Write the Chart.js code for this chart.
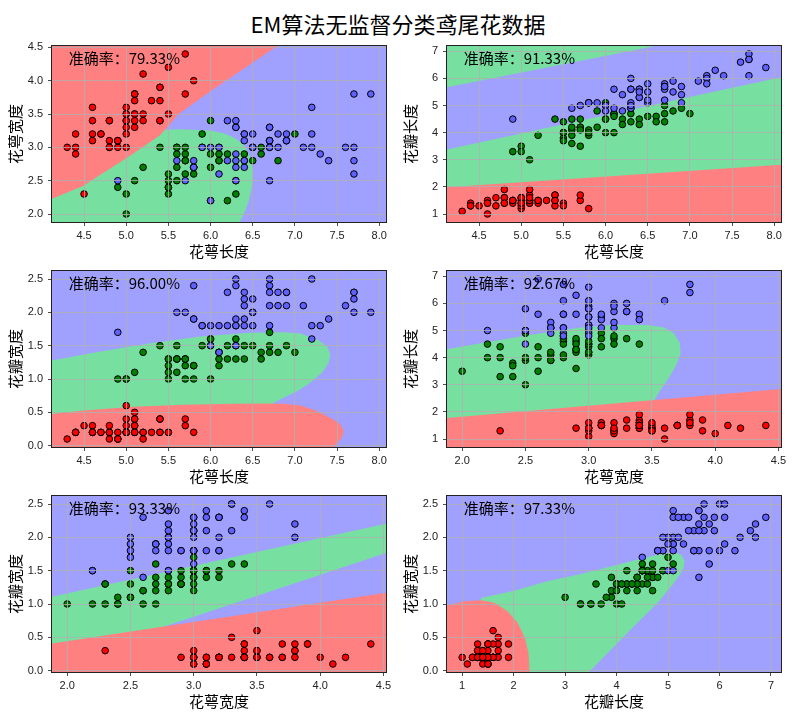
<!DOCTYPE html>
<html>
<head>
<meta charset="utf-8">
<script src="https://cdn.jsdelivr.net/npm/chart.js@4.4.1/dist/chart.umd.min.js"></script>
<style>
  html, body { margin: 0; padding: 0; background: #fff; overflow: hidden; }
  #wrap { position: relative; width: 796px; height: 716px; }
  #title { position: absolute; left: 0; top: 8px; width: 796px; line-height: 30px; text-align: center;
           font-family: "Noto Sans CJK SC"; font-size: 22px; color: #000; }
  canvas { position: absolute; }
</style>
</head>
<body>
<div id="wrap">
  <div id="title">EM算法无监督分类鸢尾花数据</div>
</div>
<script>
// -------- DATA --------
const featureNames = ["花萼长度", "花萼宽度", "花瓣长度", "花瓣宽度"];

const featureTicks = [
  ["4.5", "5.0", "5.5", "6.0", "6.5", "7.0", "7.5", "8.0"],
  ["2.0", "2.5", "3.0", "3.5", "4.0", "4.5"],
  ["1", "2", "3", "4", "5", "6", "7"],
  ["0.0", "0.5", "1.0", "1.5", "2.0", "2.5"]
];

// iris rows: sepal length, sepal width, petal length, petal width
const setosaRows = [
  [5.1,3.5,1.4,0.2],[4.9,3.0,1.4,0.2],[4.7,3.2,1.3,0.2],[4.6,3.1,1.5,0.2],[5.0,3.6,1.4,0.2],
  [5.4,3.9,1.7,0.4],[4.6,3.4,1.4,0.3],[5.0,3.4,1.5,0.2],[4.4,2.9,1.4,0.2],[4.9,3.1,1.5,0.1],
  [5.4,3.7,1.5,0.2],[4.8,3.4,1.6,0.2],[4.8,3.0,1.4,0.1],[4.3,3.0,1.1,0.1],[5.8,4.0,1.2,0.2],
  [5.7,4.4,1.5,0.4],[5.4,3.9,1.3,0.4],[5.1,3.5,1.4,0.3],[5.7,3.8,1.7,0.3],[5.1,3.8,1.5,0.3],
  [5.4,3.4,1.7,0.2],[5.1,3.7,1.5,0.4],[4.6,3.6,1.0,0.2],[5.1,3.3,1.7,0.5],[4.8,3.4,1.9,0.2],
  [5.0,3.0,1.6,0.2],[5.0,3.4,1.6,0.4],[5.2,3.5,1.5,0.2],[5.2,3.4,1.4,0.2],[4.7,3.2,1.6,0.2],
  [4.8,3.1,1.6,0.2],[5.4,3.4,1.5,0.4],[5.2,4.1,1.5,0.1],[5.5,4.2,1.4,0.2],[4.9,3.1,1.5,0.1],
  [5.0,3.2,1.2,0.2],[5.5,3.5,1.3,0.2],[4.9,3.1,1.5,0.1],[4.4,3.0,1.3,0.2],[5.1,3.4,1.5,0.2],
  [5.0,3.5,1.3,0.3],[4.5,2.3,1.3,0.3],[4.4,3.2,1.3,0.2],[5.0,3.5,1.6,0.6],[5.1,3.8,1.9,0.4],
  [4.8,3.0,1.4,0.3],[5.1,3.8,1.6,0.2],[4.6,3.2,1.4,0.2],[5.3,3.7,1.5,0.2],[5.0,3.3,1.4,0.2]
];
const versicolorRows = [
  [7.0,3.2,4.7,1.4],[6.4,3.2,4.5,1.5],[6.9,3.1,4.9,1.5],[5.5,2.3,4.0,1.3],[6.5,2.8,4.6,1.5],
  [5.7,2.8,4.5,1.3],[6.3,3.3,4.7,1.6],[4.9,2.4,3.3,1.0],[6.6,2.9,4.6,1.3],[5.2,2.7,3.9,1.4],
  [5.0,2.0,3.5,1.0],[5.9,3.0,4.2,1.5],[6.0,2.2,4.0,1.0],[6.1,2.9,4.7,1.4],[5.6,2.9,3.6,1.3],
  [6.7,3.1,4.4,1.4],[5.6,3.0,4.5,1.5],[5.8,2.7,4.1,1.0],[6.2,2.2,4.5,1.5],[5.6,2.5,3.9,1.1],
  [5.9,3.2,4.8,1.8],[6.1,2.8,4.0,1.3],[6.3,2.5,4.9,1.5],[6.1,2.8,4.7,1.2],[6.4,2.9,4.3,1.3],
  [6.6,3.0,4.4,1.4],[6.8,2.8,4.8,1.4],[6.7,3.0,5.0,1.7],[6.0,2.9,4.5,1.5],[5.7,2.6,3.5,1.0],
  [5.5,2.4,3.8,1.1],[5.5,2.4,3.7,1.0],[5.8,2.7,3.9,1.2],[6.0,2.7,5.1,1.6],[5.4,3.0,4.5,1.5],
  [6.0,3.4,4.5,1.6],[6.7,3.1,4.7,1.5],[6.3,2.3,4.4,1.3],[5.6,3.0,4.1,1.3],[5.5,2.5,4.0,1.3],
  [5.5,2.6,4.4,1.2],[6.1,3.0,4.6,1.4],[5.8,2.6,4.0,1.2],[5.0,2.3,3.3,1.0],[5.6,2.7,4.2,1.3],
  [5.7,3.0,4.2,1.2],[5.7,2.9,4.2,1.3],[6.2,2.9,4.3,1.3],[5.1,2.5,3.0,1.1],[5.7,2.8,4.1,1.3]
];
const virginicaRows = [
  [6.3,3.3,6.0,2.5],[5.8,2.7,5.1,1.9],[7.1,3.0,5.9,2.1],[6.3,2.9,5.6,1.8],[6.5,3.0,5.8,2.2],
  [7.6,3.0,6.6,2.1],[4.9,2.5,4.5,1.7],[7.3,2.9,6.3,1.8],[6.7,2.5,5.8,1.8],[7.2,3.6,6.1,2.5],
  [6.5,3.2,5.1,2.0],[6.4,2.7,5.3,1.9],[6.8,3.0,5.5,2.1],[5.7,2.5,5.0,2.0],[5.8,2.8,5.1,2.4],
  [6.4,3.2,5.3,2.3],[6.5,3.0,5.5,1.8],[7.7,3.8,6.7,2.2],[7.7,2.6,6.9,2.3],[6.0,2.2,5.0,1.5],
  [6.9,3.2,5.7,2.3],[5.6,2.8,4.9,2.0],[7.7,2.8,6.7,2.0],[6.3,2.7,4.9,1.8],[6.7,3.3,5.7,2.1],
  [7.2,3.2,6.0,1.8],[6.2,2.8,4.8,1.8],[6.1,3.0,4.9,1.8],[6.4,2.8,5.6,2.1],[7.2,3.0,5.8,1.6],
  [7.4,2.8,6.1,1.9],[7.9,3.8,6.4,2.0],[6.4,2.8,5.6,2.2],[6.3,2.8,5.1,1.5],[6.1,2.6,5.6,1.4],
  [7.7,3.0,6.1,2.3],[6.3,3.4,5.6,2.4],[6.4,3.1,5.5,1.8],[6.0,3.0,4.8,1.8],[6.9,3.1,5.4,2.1],
  [6.7,3.1,5.6,2.4],[6.9,3.1,5.1,2.3],[5.8,2.7,5.1,1.9],[6.8,3.2,5.9,2.3],[6.7,3.3,5.7,2.5],
  [6.7,3.0,5.2,2.3],[6.3,2.5,5.0,1.9],[6.5,3.0,5.2,2.0],[6.2,3.4,5.4,2.3],[5.9,3.0,5.1,1.8]
];

// feature pairs shown, and accuracy text of each subplot
const pairs = [[0, 1], [0, 2], [0, 3], [1, 2], [1, 3], [2, 3]];
const accuracy = ["79.33%", "91.33%", "96.00%", "92.67%", "93.33%", "97.33%"];

// decision regions (data coordinates)
const red1 = [[4.12,4.52],[6.79,4.52],[6.02,3.86],[5.62,3.50],[5.50,3.32],[5.40,3.18],[5.207,3.013],[5.001,2.838],[4.693,2.589],[4.495,2.424],[4.12,2.229]];
const green1 = [[4.12,1.88],[4.12,2.30],[4.70,2.66],[5.20,3.05],[5.45,3.262],[5.641,3.27],[5.997,3.252],[6.155,3.212],[6.293,3.138],[6.392,3.038],[6.459,2.888],[6.495,2.713],[6.503,2.563],[6.487,2.389],[6.451,2.189],[6.392,1.989],[6.345,1.88]];

const blue2 = [[4.12,3.375],[8.08,6.044],[8.08,7.195],[6.593,7.195],[4.12,5.677]];
const red2 = [[4.12,0.705],[8.08,0.705],[8.08,2.82],[4.12,1.99]];

const green3 = [[4.12,1.278],[4.693,1.412],[5.286,1.537],[5.879,1.637],[6.471,1.692],[6.867,1.70],[7.064,1.682],[7.262,1.592],[7.38,1.492],[7.42,1.367],[7.40,1.243],[7.321,1.093],[7.182,0.944],[7.025,0.818],[6.866,0.719],[6.747,0.644],[6.70,0.55],[4.12,0.42]];
const red3 = [[4.12,0.474],[4.495,0.529],[5.088,0.584],[5.681,0.614],[6.274,0.629],[6.669,0.632],[6.866,0.630],[7.064,0.604],[7.262,0.519],[7.44,0.405],[7.538,0.32],[7.577,0.22],[7.558,0.121],[7.499,0.031],[7.459,-0.02],[4.12,-0.02]];

const green4 = [[1.88,4.312],[2.148,4.533],[2.543,4.84],[2.937,5.109],[3.2,5.207],[3.463,5.207],[3.594,5.109],[3.673,4.901],[3.721,4.533],[3.726,4.165],[3.694,3.736],[3.634,3.245],[3.568,2.815],[3.502,2.30],[1.88,1.6]];
const red4 = [[1.88,0.705],[4.52,0.705],[4.52,2.84],[1.88,1.773]];

const green5 = [[1.88,1.107],[4.52,2.202],[4.52,1.764],[2.773,0.667],[1.88,0.30]];
const red5 = [[1.88,-0.02],[4.52,-0.02],[4.52,1.17],[1.88,0.409]];

const green6 = [[1.364,1.09],[2.011,1.20],[2.658,1.34],[3.304,1.449],[3.95,1.574],[4.467,1.679],[4.855,1.748],[5.113,1.773],[5.256,1.738],[5.32,1.649],[5.30,1.54],[5.22,1.43],[5.08,1.28],[4.80,1.02],[4.339,0.667],[3.466,-0.02],[1.2,-0.02]];
const red6 = [[0.705,0.977],[1.042,1.041],[1.364,1.056],[1.624,1.017],[1.882,0.891],[2.076,0.718],[2.218,0.494],[2.289,0.27],[2.309,-0.02],[0.705,-0.02]];

const LIGHT = { r: "#ff8080", g: "#77e0a0", b: "#a0a0ff" };
const DARK = ["#ff0000", "#008000", "#6060ff"];

const regionList = [
  { base: "b", polys: [["g", green1], ["r", red1]] },
  { base: "g", polys: [["b", blue2], ["r", red2]] },
  { base: "b", polys: [["g", green3], ["r", red3]] },
  { base: "b", polys: [["g", green4], ["r", red4]] },
  { base: "b", polys: [["g", green5], ["r", red5]] },
  { base: "b", polys: [["g", green6], ["r", red6]] }
];

// -------- LAYOUT --------
const colLeft = [52, 447];
const rowTop = [46, 271, 496];
const AX_W = 334, AX_H = 176;
const PAD_TOP = 12, PAD_RIGHT = 12, YBOX = 52, XBOX = 43;

const allRows = setosaRows.concat(versicolorRows, virginicaRows);
const classOf = allRows.map((r, i) => (i < 50 ? 0 : i < 100 ? 1 : 2));

function limits(f) {
  const v = allRows.map(r => r[f]);
  const lo = Math.min(...v), hi = Math.max(...v);
  const d = (hi - lo) * 0.05;
  return [lo - d, hi + d];
}

// -------- PLUGINS --------
const regionPlugin = {
  id: "regions",
  beforeDatasetsDraw(chart, args, opts) {
    const { ctx, chartArea: a, scales: { x, y } } = chart;
    ctx.save();
    ctx.beginPath();
    ctx.rect(a.left, a.top, a.right - a.left, a.bottom - a.top);
    ctx.clip();
    ctx.fillStyle = LIGHT[opts.base];
    ctx.fillRect(a.left, a.top, a.right - a.left, a.bottom - a.top);
    opts.polys.forEach(([c, pts]) => {
      ctx.beginPath();
      pts.forEach((p, i) => {
        const px = x.getPixelForValue(p[0]), py = y.getPixelForValue(p[1]);
        if (i === 0) ctx.moveTo(px, py); else ctx.lineTo(px, py);
      });
      ctx.closePath();
      ctx.fillStyle = LIGHT[c];
      ctx.fill();
    });
    ctx.restore();
  }
};

const framePlugin = {
  id: "frame",
  afterDraw(chart, args, opts) {
    const { ctx, chartArea: a, scales: { x, y } } = chart;
    ctx.save();
    ctx.font = '15px "Noto Sans CJK SC"';
    ctx.fillStyle = "#000";
    ctx.textAlign = "left";
    ctx.textBaseline = "alphabetic";
    const xx = 0.95 * x.min + 0.05 * x.max;
    const yy = 0.1 * y.min + 0.9 * y.max;
    ctx.fillText("准确率：" + opts.text, x.getPixelForValue(xx), y.getPixelForValue(yy));
    ctx.strokeStyle = "#222";
    ctx.lineWidth = 1;
    ctx.strokeRect(Math.round(a.left) - 0.5, Math.round(a.top) - 0.5, Math.round(a.right - a.left) + 1, Math.round(a.bottom - a.top) + 1);
    ctx.restore();
  }
};

function axisOpts(f, which) {
  const labels = featureTicks[f];
  const lim = limits(f);
  return {
    type: "linear",
    min: lim[0],
    max: lim[1],
    z: 1,
    afterBuildTicks: s => { s.ticks = labels.map(t => ({ value: parseFloat(t) })); },
    afterFit: s => { if (which === "x") s.height = XBOX; else s.width = YBOX; },
    ticks: {
      callback: (v, i) => labels[i],
      autoSkip: false,
      maxRotation: 0,
      padding: which === "x" ? 3 : 5,
      color: "#222",
      font: { family: "Liberation Sans", size: 11 }
    },
    grid: { z: 1, color: "#b0b0b0", lineWidth: 0.8, drawTicks: true, tickLength: 4, tickColor: "#222" },
    border: { display: false },
    title: {
      display: true,
      text: featureNames[f],
      color: "#000",
      font: { family: "Noto Sans CJK SC", size: 15 },
      padding: which === "x" ? { top: 0, bottom: 5 } : { top: 6, bottom: 0 }
    }
  };
}

// -------- BUILD SUBPLOTS --------
const wrap = document.getElementById("wrap");

pairs.forEach(([fi, fj], k) => {
  const row = Math.floor(k / 2), col = k % 2;
  const canvas = document.createElement("canvas");
  canvas.width = YBOX + AX_W + PAD_RIGHT;
  canvas.height = PAD_TOP + AX_H + XBOX;
  canvas.style.left = (colLeft[col] - YBOX) + "px";
  canvas.style.top = (rowTop[row] - PAD_TOP) + "px";
  wrap.appendChild(canvas);

  const points = allRows.map(r => ({ x: r[fi], y: r[fj] }));
  const colors = classOf.map(c => DARK[c]);

  new Chart(canvas, {
    type: "scatter",
    data: {
      datasets: [{
        data: points,
        pointBackgroundColor: colors,
        pointBorderColor: "#000",
        pointBorderWidth: 1,
        pointRadius: 3.3,
        pointHoverRadius: 3.3
      }]
    },
    options: {
      responsive: false,
      animation: false,
      devicePixelRatio: 1,
      events: [],
      layout: { padding: { top: PAD_TOP, right: PAD_RIGHT, left: 0, bottom: 0 } },
      plugins: {
        legend: { display: false },
        tooltip: { enabled: false },
        regions: regionList[k],
        frame: { text: accuracy[k] }
      },
      scales: {
        x: axisOpts(fi, "x"),
        y: axisOpts(fj, "y")
      }
    },
    plugins: [regionPlugin, framePlugin]
  });
});
</script>
</body>
</html>
